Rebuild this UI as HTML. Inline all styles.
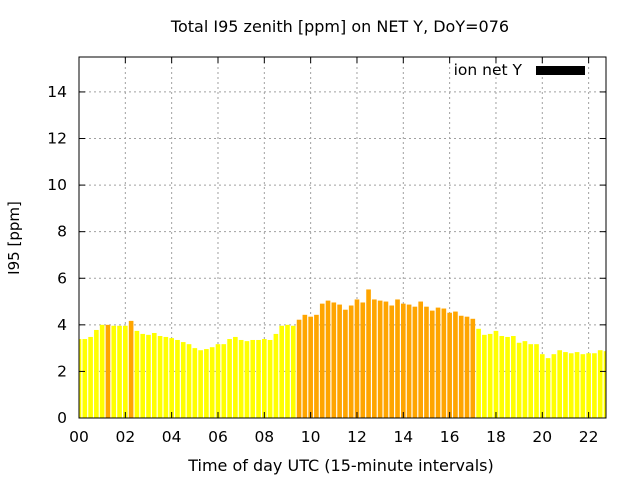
<!DOCTYPE html>
<html><head><meta charset="utf-8"><style>
html,body{margin:0;padding:0;background:#fff;}
svg{display:block;font-family:"DejaVu Sans","Liberation Sans",sans-serif;}
</style></head><body>
<svg id="chart" width="640" height="480" viewBox="0 0 640 480">
<rect width="640" height="480" fill="#fff"/>
<text x="340" y="32" font-size="16" text-anchor="middle">Total I95 zenith [ppm] on NET Y, DoY=076</text>
<g id="grid"></g>
<g id="bars"></g>
<g id="axes"></g>
<text x="341" y="471" font-size="16" text-anchor="middle">Time of day UTC (15-minute intervals)</text>
<text transform="translate(19,238) rotate(-90)" font-size="15" text-anchor="middle">I95 [ppm]</text>
<g>
<text x="522" y="75" font-size="15.5" text-anchor="end">ion net Y</text>
<rect x="536" y="66" width="49" height="9" fill="#000"/>
</g>
</svg>
<script>
const values = [3.39,3.39,3.48,3.78,4.0,4.0,3.96,3.96,3.96,4.17,3.74,3.61,3.57,3.65,3.52,3.48,3.43,3.35,3.26,3.17,3.0,2.91,2.96,3.04,3.17,3.17,3.39,3.48,3.35,3.30,3.35,3.35,3.39,3.35,3.61,3.96,4.0,3.96,4.22,4.43,4.35,4.43,4.91,5.04,4.96,4.87,4.65,4.83,5.09,4.96,5.52,5.09,5.04,5.0,4.83,5.09,4.91,4.87,4.78,5.0,4.78,4.61,4.74,4.70,4.52,4.57,4.39,4.35,4.26,3.83,3.57,3.61,3.74,3.52,3.48,3.52,3.23,3.30,3.17,3.17,2.74,2.57,2.74,2.91,2.83,2.78,2.83,2.74,2.78,2.78,2.91,2.87];
const highlighted = [5,9,38,39,40,41,42,43,44,45,46,47,48,49,50,51,52,53,54,55,56,57,58,59,60,61,62,63,64,65,66,67,68];
const xTickLabels = ["00","02","04","06","08","10","12","14","16","18","20","22"];
const yTickLabels = ["0","2","4","6","8","10","12","14"];
const NS="http://www.w3.org/2000/svg";
const L=79,R=606,T=57,B=418,XMAX=22.75,YMAX=15.5;
const xs=h=>L+(R-L)*h/XMAX;
const ys=v=>B-(B-T)*v/YMAX;
function mk(tag,attrs,parent){const e=document.createElementNS(NS,tag);for(const k in attrs)e.setAttribute(k,attrs[k]);parent.appendChild(e);return e;}
const grid=document.getElementById('grid'),bars=document.getElementById('bars'),axes=document.getElementById('axes');
const clip=mk('clipPath',{id:'pc'},document.getElementById('chart'));
mk('rect',{x:L,y:T,width:R-L,height:B-T},clip);
bars.setAttribute('clip-path','url(#pc)');
const bw=(R-L)/XMAX*0.25*0.8;
values.forEach((v,i)=>{
  const h=i*0.25;
  const r=mk('rect',{x:xs(h)-bw/2,y:ys(v),width:bw,height:B-ys(v),fill:highlighted.includes(i)?'#ffa500':'#ffff00'},bars);
  
  
});
yTickLabels.forEach(t=>{
  const v=+t,y=ys(v);
  if(v>0){const g=mk('line',{x1:L,x2:R,y1:y,y2:y,stroke:'#a0a0a0','stroke-dasharray':'2,3','stroke-width':1},grid);
  }
  mk('line',{x1:L,x2:L+6,y1:y,y2:y,stroke:'#000'},axes);
  mk('line',{x1:R,x2:R-6,y1:y,y2:y,stroke:'#000'},axes);
  const tx=mk('text',{x:L-12,y:y+5,'font-size':15.5,'text-anchor':'end'},axes);tx.textContent=t;
  
});
xTickLabels.forEach(t=>{
  const x=xs(+t);
  if(+t>0){const g=mk('line',{x1:x,x2:x,y1:T,y2:B,stroke:'#a0a0a0','stroke-dasharray':'2,3','stroke-width':1},grid);
  }
  mk('line',{x1:x,x2:x,y1:B,y2:B-6,stroke:'#000'},axes);
  mk('line',{x1:x,x2:x,y1:T,y2:T+6,stroke:'#000'},axes);
  const tx=mk('text',{x:x,y:B+24,'font-size':15.5,'text-anchor':'middle'},axes);tx.textContent=t;
  
});
const fr=mk('rect',{x:L,y:T,width:R-L,height:B-T,fill:'none',stroke:'#000','stroke-width':1},axes);


</script>
</body></html>
